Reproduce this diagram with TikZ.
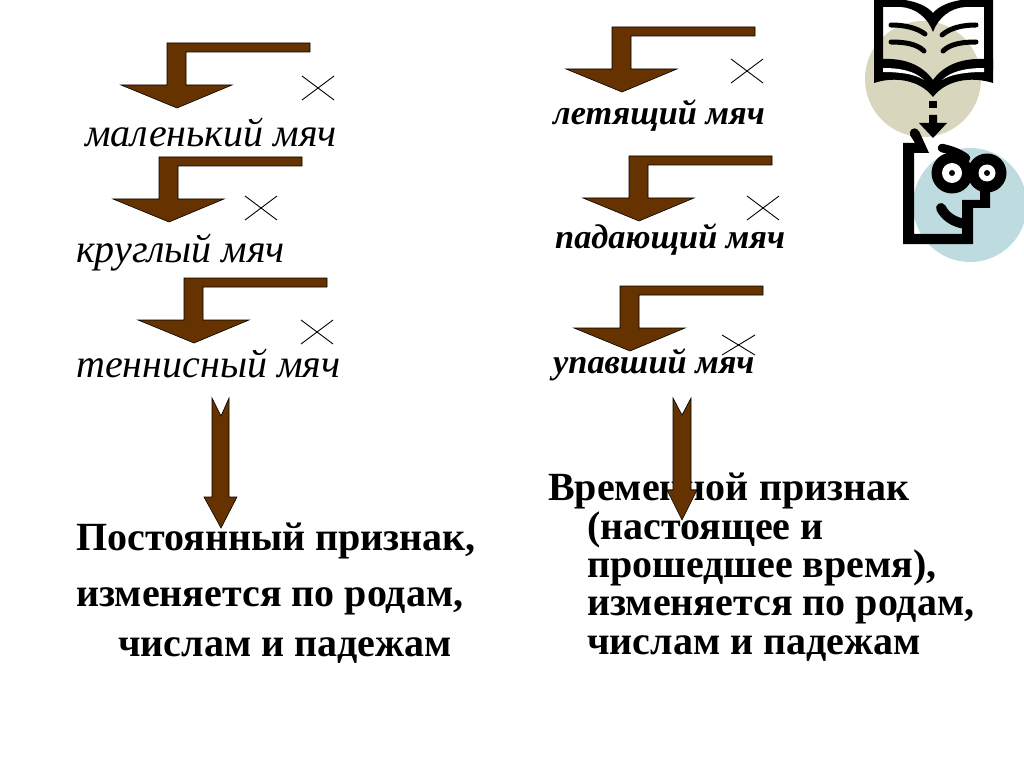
\documentclass[tikz,border=0pt]{standalone}
\usepackage{fontspec}
\setmainfont{Liberation Serif}
\definecolor{brn}{RGB}{102,51,0}
\definecolor{tan1}{RGB}{216,214,188}
\definecolor{teal1}{RGB}{190,220,224}
\tikzset{
 arrowshape/.style={fill=brn,draw=black,line width=0.6pt,line join=miter},
 crossline/.style={draw=black,line width=0.9pt},
 ink/.style={draw=black,line width=5pt,line cap=round},
 it/.style={anchor=base west,inner sep=0,font=\fontsize{40}{40}\selectfont\itshape},
 itb/.style={anchor=base west,inner sep=0,font=\fontsize{34.3}{34}\selectfont\itshape\bfseries},
 bd/.style={anchor=base west,inner sep=0,font=\fontsize{40}{40}\selectfont\bfseries}
}
\newcommand{\bentarr}[3]{% corner x, top y, name
 \node[coordinate] (#3) at (#1,#2) {};
 \draw[arrowshape] (#1,#2) -- ++(143,0) -- ++(0,9) -- ++(-124,0) -- ++(0,33) -- ++(46,0) -- ++(-55,23) -- ++(-56,-23) -- ++(46,0) -- cycle;}
\newcommand{\crossmark}[5]{%
 \node[coordinate] (#5a) at (#1,#2) {}; \node[coordinate] (#5b) at (#3,#4) {};
 \node[coordinate] (#5c) at (#1,#4) {}; \node[coordinate] (#5d) at (#3,#2) {};
 \draw[crossline] (#5a) -- (#5b); \draw[crossline] (#5c) -- (#5d);}
\begin{document}
\begin{tikzpicture}[x=1pt,y=-1pt]
\useasboundingbox (0,0) rectangle (1024,767);
\fill[white] (0,0) rectangle (1024,767);
% texts
\node[it] (t1) at (85,147) {маленький мяч};
\node[it] (t2) at (76,262) {круглый мяч};
\node[it] (t3) at (76,377) {теннисный мяч};
\node[itb] (t4) at (553,125) {летящий мяч};
\node[itb] (t5) at (555,248) {падающий мяч};
\node[itb] (t6) at (553,373) {упавший мяч};
\node[bd] (a1) at (76,550) {Постоянный признак,};
\node[bd] (a2) at (76,606) {изменяется по родам,};
\node[bd] (a3) at (118,656) {числам и падежам};
\node[bd] (b1) at (548,500) {Временной признак};
\node[bd] (b2) at (587,539) {(настоящее и};
\node[bd] (b3) at (587,577) {прошедшее время),};
\node[bd] (b4) at (587,615) {изменяется по родам,};
\node[bd] (b5) at (587,654) {числам и падежам};
% bent arrows
\bentarr{167}{43}{p1}
\bentarr{159}{157}{p2}
\bentarr{184}{278}{p3}
\bentarr{612}{27}{p4}
\bentarr{629}{156}{p5}
\bentarr{620}{286}{p6}
% crosses
\crossmark{302}{76}{334}{100}{c1}
\crossmark{245}{196}{277}{220}{c2}
\crossmark{301}{320}{333}{344}{c3}
\crossmark{731}{59}{763}{83}{c4}
\crossmark{747}{196}{779}{220}{c5}
\crossmark{722}{335}{755}{355}{c6}
% straight arrows
\draw[arrowshape] (212,398) -- (221,416) -- (229,398) -- (229,497) -- (237,497) -- (221,528) -- (204,497) -- (212,497) -- cycle;
\draw[arrowshape] (673,398) -- (682,415) -- (691,398) -- (691,490) -- (697,490) -- (682,520) -- (667,490) -- (673,490) -- cycle;
% clip art: discs
\fill[tan1] (923,79) circle (58);
\fill[teal1] (970,205) circle (57);
% book: frame and top band
\fill[black] (874,0) -- (905,0) .. controls (917,2) and (927,6) .. (933,13) .. controls (939,6) and (949,2) .. (961,0) -- (993,0) -- (993,70) -- (984,70) -- (984,7) -- (965,7) .. controls (950,8) and (938,18) .. (933,32) .. controls (928,18) and (916,8) .. (901,7) -- (883,7) -- (883,70) -- (874,70) -- cycle;
% book: lower bands
\fill[black] (874,83) .. controls (895,76) and (920,80) .. (933,97) .. controls (946,80) and (971,76) .. (993,83) -- (993,59) -- (984,59) .. controls (960,58) and (943,66) .. (933,80) .. controls (923,66) and (906,58) .. (883,59) -- (874,59) -- cycle;
\fill[white] (883,68) .. controls (900,68) and (915,71) .. (924,80) .. controls (915,74) and (900,72) .. (883,72) -- cycle;
\fill[white] (984,68) .. controls (967,68) and (951,71) .. (942,80) .. controls (951,74) and (967,72) .. (984,72) -- cycle;
% book: text lines
\draw[ink] (891,25) .. controls (905,25) and (917,28) .. (925,34);
\draw[ink] (891,42) .. controls (905,42) and (917,44) .. (924,51);
\draw[ink] (976,25) .. controls (962,25) and (950,28) .. (942,35);
\draw[ink] (976,42) .. controls (962,42) and (950,44) .. (943,51);
% dashed arrow
\fill[black] (929,101) rectangle (937,108);
\fill[black] (929,115) -- (937,115) -- (937,123) -- (947,123) -- (933,138) -- (919,123) -- (929,123) -- cycle;
% head outline
\fill[black] (903,143) -- (915,143) -- (910,135) -- (919,131) -- (929,153) -- (914,153) -- (914,234) -- (962,234) -- (962,200) -- (980,200) -- (980,185) -- (990,185) -- (990,208) -- (973,208) -- (973,244) -- (903,244) -- cycle;
\fill[black] (914.5,133) circle (4.7);
% brow
\draw[ink,line width=8.5pt] (942,148) .. controls (950,150) and (958,152) .. (966,158);
% smile
\draw[ink,line width=10pt] (941,208) .. controls (945,216) and (953,222) .. (965,224);
% eyes
\fill[black] (952,173) circle (20.5);
\fill[black] (987,173) circle (19.5);
\fill[white] (952,173) circle (10);
\fill[white] (987,173) circle (8.5);
\fill[black] (952,173) circle (3);
\fill[black] (987,173) circle (3);
\end{tikzpicture}
\end{document}
